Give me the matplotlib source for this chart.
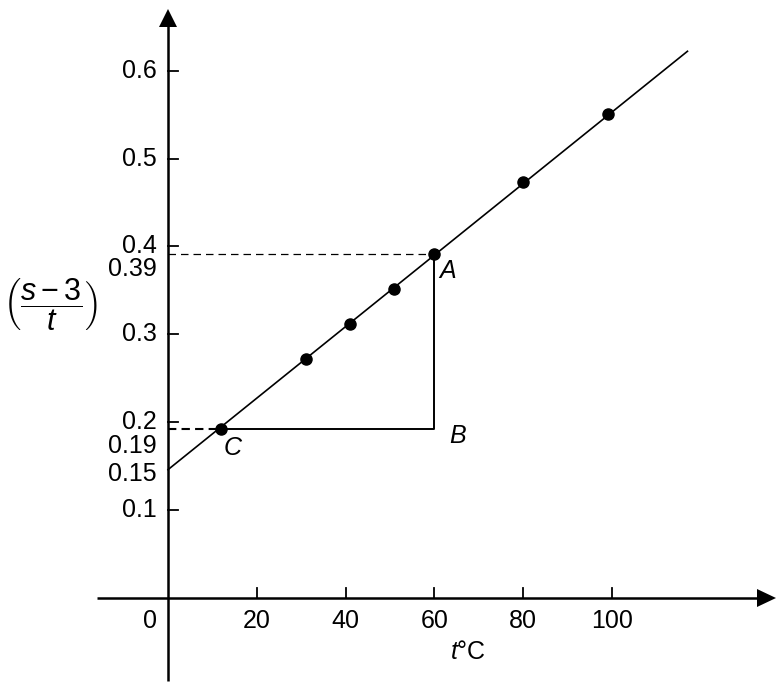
import matplotlib
matplotlib.use("Agg")
import matplotlib.pyplot as plt
import numpy as np

plt.rcParams['font.family'] = ['Liberation Sans', 'DejaVu Sans']
plt.rcParams['mathtext.fontset'] = 'custom'
plt.rcParams['mathtext.rm'] = 'Liberation Sans'
plt.rcParams['mathtext.it'] = 'Liberation Sans:italic'
plt.rcParams['mathtext.sf'] = 'Liberation Sans'

# data
t_vals = [12, 31, 41, 51, 60, 80, 99]
y_vals = [0.192, 0.272, 0.312, 0.351, 0.391, 0.473, 0.551]
line_t = [0, 117]
line_y = [0.146, 0.622]
x_ticks = [20, 40, 60, 80, 100]
y_ticks = [0.1, 0.2, 0.3, 0.4, 0.5, 0.6]
y_tick_labels = ['0.1', '0.2', '0.3', '0.4', '0.5', '0.6']
extra_values = [0.39, 0.19, 0.15]
extra_labels = ['0.39', '0.19', '0.15']
A = (60, 0.391)
C = (12, 0.192)
B = (60, 0.192)

fig = plt.figure(figsize=(7.82, 6.9), dpi=100)
ax = fig.add_axes([0, 0, 1, 1])
px = 4.44   # pixels per unit t
py = 879.0  # pixels per unit y
x0, y0 = 168, 598
ax.set_xlim(-x0 / px, (782 - x0) / px)
ax.set_ylim(-(690 - y0) / py, y0 / py)
ax.axis('off')

def tx(p):
    return (p - x0) / px
def ty(p):
    return (y0 - p) / py

FS = 18
lw = 1.8
# axes
ax.plot([tx(97), tx(760)], [0, 0], color='black', lw=lw, solid_capstyle='butt')
ax.plot([0, 0], [ty(681), ty(24)], color='black', lw=lw, solid_capstyle='butt')
ax.fill([tx(776), tx(757), tx(757)], [0, ty(y0 - 9), ty(y0 + 9)], color='black', lw=0)
ax.fill([0, tx(x0 - 9), tx(x0 + 9)], [ty(9), ty(27), ty(27)], color='black', lw=0)

# ticks
for t in x_ticks:
    ax.plot([t, t], [0, 10 / py], color='black', lw=1.3)
    ax.annotate(str(t), (t, 0), xytext=(0, -11), textcoords='offset pixels',
                ha='center', va='top', fontsize=FS)
ax.annotate('0', (0, 0), xytext=(-18, -11), textcoords='offset pixels',
            ha='center', va='top', fontsize=FS)
for v, lab in zip(y_ticks, y_tick_labels):
    ax.plot([0, 10 / px], [v, v], color='black', lw=1.3)
    ax.annotate(lab, (0, v), xytext=(-11, 0), textcoords='offset pixels',
                ha='right', va='center', fontsize=FS)
offsets = {'0.39': -14, '0.19': -15, '0.15': -8}
for v, lab in zip(extra_values, extra_labels):
    ax.annotate(lab, (0, v), xytext=(-11, offsets[lab]), textcoords='offset pixels',
                ha='right', va='center', fontsize=FS)

# fitted line and points
ax.plot(line_t, line_y, color='black', lw=1.2)
ax.plot(t_vals, y_vals, 'o', color='black', ms=8)

# triangle
ax.plot([0, A[0]], [A[1], A[1]], color='black', lw=0.9, ls=(0, (6, 4)))
ax.plot([0, C[0]], [C[1], C[1]], color='black', lw=1.5, ls=(0, (4, 2.5)))
ax.plot([C[0], B[0], A[0]], [C[1], B[1], A[1]], color='black', lw=1.4)

ax.annotate('A', A, xytext=(13, -17), textcoords='offset pixels', style='italic',
            fontsize=FS, ha='center', va='center')
ax.annotate('B', B, xytext=(23, -7), textcoords='offset pixels', style='italic',
            fontsize=FS, ha='center', va='center')
ax.annotate('C', C, xytext=(11, -19), textcoords='offset pixels', style='italic',
            fontsize=FS, ha='center', va='center')

ax.annotate(r'$t$°C', (tx(468), 0), xytext=(0, -54), textcoords='offset pixels',
            fontsize=FS, ha='center', va='center')
ax.text(tx(50), ty(305), r'$\left(\dfrac{s-3}{t}\right)$', fontsize=22, ha='center', va='center')

fig.savefig('out.png', dpi=100)
